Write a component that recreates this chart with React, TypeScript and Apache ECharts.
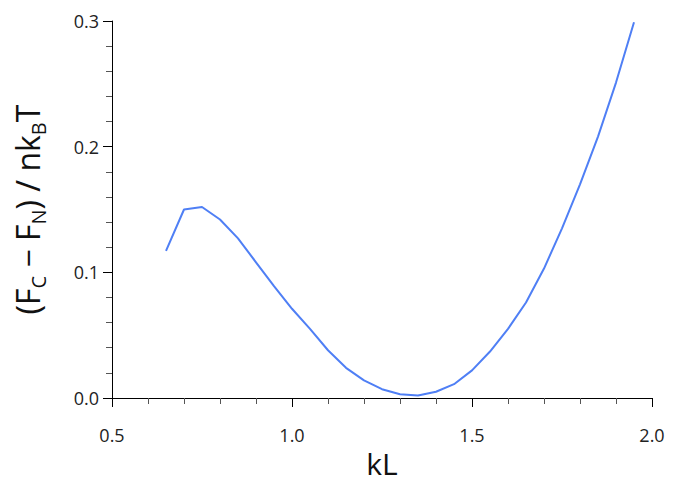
import React, { useEffect, useRef } from "react";
import * as echarts from "echarts";

const kL = [0.65, 0.7, 0.75, 0.8, 0.85, 0.9, 0.95, 1.0, 1.05, 1.1, 1.15, 1.2, 1.25, 1.3, 1.35, 1.4, 1.45, 1.5, 1.55, 1.6, 1.65, 1.7, 1.75, 1.8, 1.85, 1.9, 1.95];
const dF = [0.117, 0.150, 0.152, 0.142, 0.127, 0.108, 0.089, 0.071, 0.055, 0.038, 0.024, 0.014, 0.007, 0.003, 0.002, 0.005, 0.011, 0.022, 0.037, 0.055, 0.076, 0.103, 0.135, 0.170, 0.208, 0.251, 0.299];

const FONT = "'Open Sans', 'Noto Sans', sans-serif";

export default function App() {
  const ref = useRef<HTMLDivElement>(null);
  useEffect(() => {
    if (!ref.current) return;
    document.body.style.margin = "0";
    const chart = echarts.init(ref.current, undefined, { renderer: "svg" });
    chart.setOption({
      animation: false,
      grid: { left: 112, right: 36, top: 21, bottom: 85, containLabel: false, outerBoundsMode: "none" },
      xAxis: {
        type: "value",
        min: 0.5,
        max: 2.0,
        interval: 0.5,
        axisLine: { show: true, onZero: false, lineStyle: { color: "#000", width: 1 } },
        axisTick: { show: true, inside: false, length: 9, lineStyle: { color: "#000", width: 1 } },
        minorTick: { show: true, splitNumber: 5, length: 6, lineStyle: { color: "#555", width: 1 } },
        splitLine: { show: false },
        axisLabel: { color: "#222", fontSize: 18, fontFamily: FONT, margin: 28, formatter: (v: number) => v.toFixed(1) },
        name: "kL",
        nameLocation: "middle",
        nameGap: 46,
        nameTextStyle: { fontSize: 30, fontFamily: FONT, color: "#111" },
      },
      yAxis: {
        type: "value",
        min: 0,
        max: 0.3,
        interval: 0.1,
        axisLine: { show: true, onZero: false, lineStyle: { color: "#000", width: 1 } },
        axisTick: { show: true, inside: false, length: 9, lineStyle: { color: "#000", width: 1 } },
        minorTick: { show: true, splitNumber: 5, length: 6, lineStyle: { color: "#555", width: 1 } },
        splitLine: { show: false },
        axisLabel: { color: "#222", fontSize: 18, fontFamily: FONT, margin: 13, formatter: (v: number) => v.toFixed(1) },
        name: "(F{s|C} − F{s|N}) / nk{s|B}T",
        nameLocation: "middle",
        nameRotate: 90,
        nameGap: 64,
        nameTextStyle: {
          fontSize: 32,
          fontFamily: FONT,
          color: "#111",
          rich: {
            s: { fontSize: 20, fontFamily: FONT, color: "#111", padding: [22, 0, 0, 0] },
          },
        },
      },
      series: [
        {
          type: "line",
          data: kL.map((x, i) => [x, dF[i]]),
          showSymbol: false,
          symbol: "none",
          lineStyle: { color: "#4f7ff5", width: 2 },
        },
      ],
    });
    return () => chart.dispose();
  }, []);
  return <div ref={ref} style={{ width: 688, height: 483 }} />;
}
